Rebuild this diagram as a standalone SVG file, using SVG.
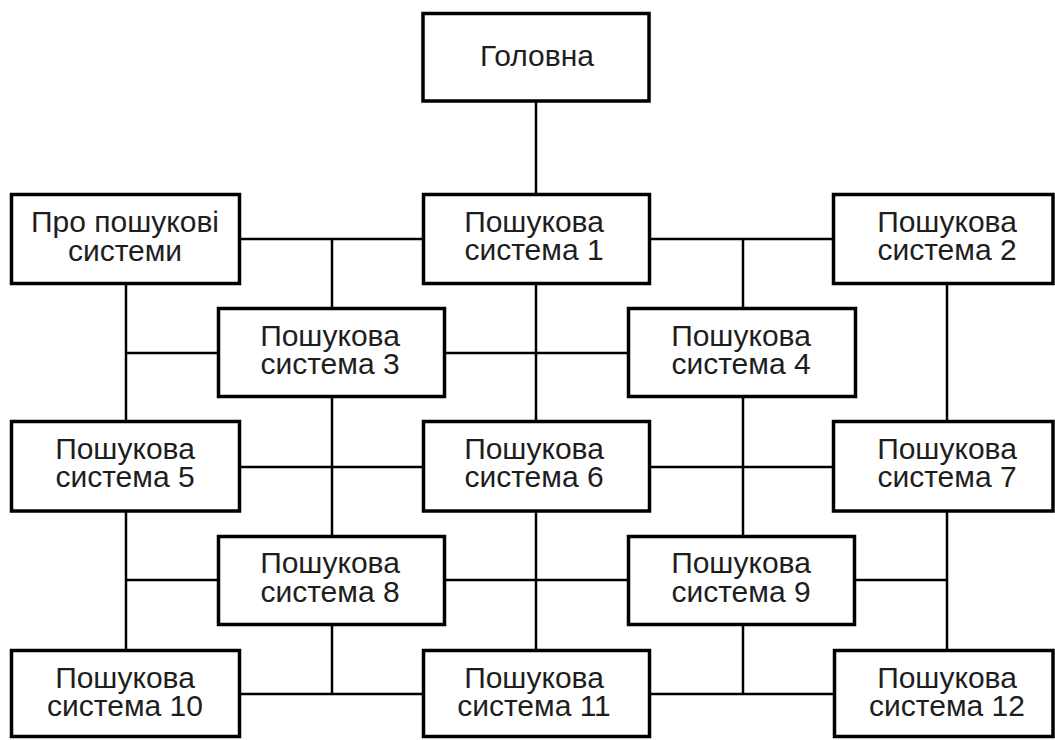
<svg xmlns="http://www.w3.org/2000/svg" width="1055" height="740" viewBox="0 0 1055 740">
<style>
.box{fill:#fff;stroke:#000;stroke-width:3.5}
.t{font-family:"Liberation Sans",Arial,sans-serif;font-size:30px;fill:#1e1e1e;text-anchor:middle}
.c line{stroke:#000;stroke-width:2.5}
</style>
<rect width="1055" height="740" fill="#fff"/>
<g class="c" id="connectors">
<line x1="536" y1="102" x2="536" y2="193"/>
<line x1="241" y1="239" x2="422" y2="239"/>
<line x1="332" y1="239" x2="332" y2="307"/>
<line x1="650" y1="239" x2="832" y2="239"/>
<line x1="743" y1="239" x2="743" y2="307"/>
<line x1="126" y1="285" x2="126" y2="420"/>
<line x1="126" y1="353" x2="217" y2="353"/>
<line x1="446" y1="353" x2="627" y2="353"/>
<line x1="536" y1="285" x2="536" y2="420"/>
<line x1="947" y1="285" x2="947" y2="420"/>
<line x1="332" y1="398" x2="332" y2="535"/>
<line x1="241" y1="467" x2="422" y2="467"/>
<line x1="743" y1="398" x2="743" y2="535"/>
<line x1="650" y1="467" x2="832" y2="467"/>
<line x1="126" y1="512" x2="126" y2="649"/>
<line x1="126" y1="580" x2="217" y2="580"/>
<line x1="446" y1="580" x2="627" y2="580"/>
<line x1="536" y1="512" x2="536" y2="649"/>
<line x1="856" y1="580" x2="947" y2="580"/>
<line x1="947" y1="512" x2="947" y2="649"/>
<line x1="332" y1="626" x2="332" y2="694"/>
<line x1="241" y1="694" x2="422" y2="694"/>
<line x1="743" y1="626" x2="743" y2="694"/>
<line x1="650" y1="694" x2="833" y2="694"/>
</g>
<g id="n-main"><rect class="box" x="423" y="13.5" width="226" height="87.5"/><text class="t" x="537" y="66">Головна</text></g>
<g id="n-about"><rect class="box" x="11.5" y="194.5" width="228" height="89"/><text class="t" x="125" y="232">Про пошукові</text><text class="t" x="125" y="261">системи</text></g>
<g id="n-1"><rect class="box" x="423.5" y="194.5" width="226" height="89"/><text class="t" x="534" y="232">Пошукова</text><text class="t" x="534" y="260">система 1</text></g>
<g id="n-2"><rect class="box" x="833.5" y="194.5" width="219.5" height="89"/><text class="t" x="947" y="232">Пошукова</text><text class="t" x="947" y="260">система 2</text></g>
<g id="n-3"><rect class="box" x="218.5" y="308.5" width="226" height="88"/><text class="t" x="330" y="346">Пошукова</text><text class="t" x="330" y="374">система 3</text></g>
<g id="n-4"><rect class="box" x="628.5" y="308.5" width="227" height="88"/><text class="t" x="741" y="346">Пошукова</text><text class="t" x="741" y="374">система 4</text></g>
<g id="n-5"><rect class="box" x="11.5" y="421.5" width="228" height="89.5"/><text class="t" x="125" y="459">Пошукова</text><text class="t" x="125" y="487">система 5</text></g>
<g id="n-6"><rect class="box" x="423.5" y="421.5" width="226" height="89.5"/><text class="t" x="534" y="459">Пошукова</text><text class="t" x="534" y="487">система 6</text></g>
<g id="n-7"><rect class="box" x="833.5" y="421.5" width="219.5" height="89.5"/><text class="t" x="947" y="459">Пошукова</text><text class="t" x="947" y="487">система 7</text></g>
<g id="n-8"><rect class="box" x="218.5" y="536.5" width="226" height="88"/><text class="t" x="330" y="573">Пошукова</text><text class="t" x="330" y="602">система 8</text></g>
<g id="n-9"><rect class="box" x="628.5" y="536.5" width="226" height="88"/><text class="t" x="741" y="573">Пошукова</text><text class="t" x="741" y="602">система 9</text></g>
<g id="n-10"><rect class="box" x="11.5" y="650.5" width="228" height="86"/><text class="t" x="125" y="688">Пошукова</text><text class="t" x="125" y="716">система 10</text></g>
<g id="n-11"><rect class="box" x="423.5" y="650.5" width="226" height="86"/><text class="t" x="534" y="688">Пошукова</text><text class="t" x="534" y="716">система 11</text></g>
<g id="n-12"><rect class="box" x="834.5" y="650.5" width="218.5" height="86"/><text class="t" x="947" y="688">Пошукова</text><text class="t" x="947" y="716">система 12</text></g>
</svg>
